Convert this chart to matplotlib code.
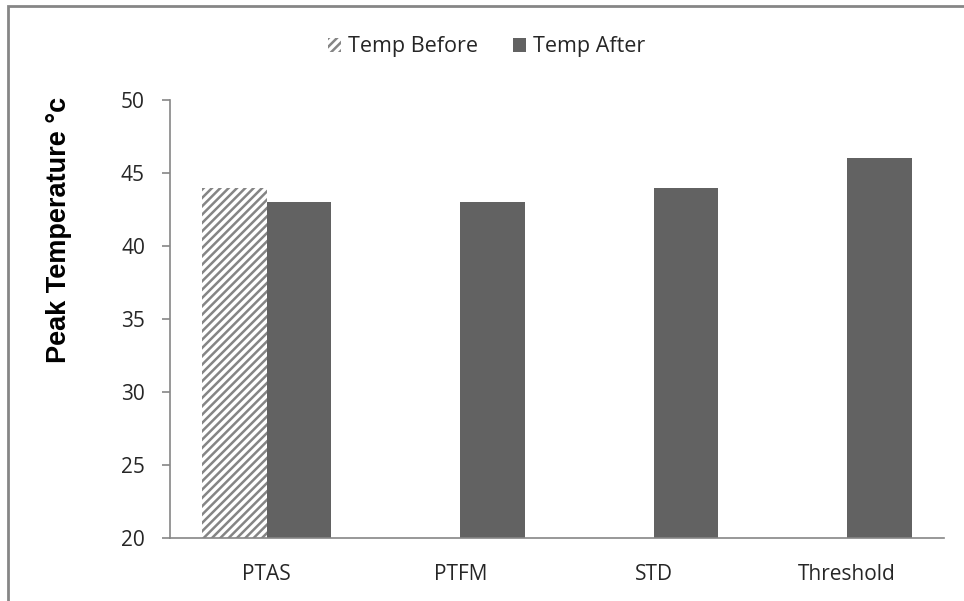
import matplotlib.pyplot as plt
import matplotlib.patches as mpatches
import numpy as np

plt.rcParams['font.family'] = ['Open Sans', 'DejaVu Sans']
plt.rcParams['hatch.linewidth'] = 1.8
plt.rcParams['hatch.color'] = '#858585'

# datos
categorias = ['PTAS', 'PTFM', 'STD', 'Threshold']
temp_antes = [44, np.nan, np.nan, np.nan]
temp_despues = [43, 43, 44, 46]
ticks_y = [20, 25, 30, 35, 40, 45, 50]

fig = plt.figure(figsize=(9.64, 6.01), dpi=100)
ax = fig.add_axes([0.1763, 0.1048, 0.8029, 0.7288])

x = np.arange(len(categorias))
ancho = 1 / 3

# barras
ax.bar(x - ancho / 2, temp_antes, ancho, color='white', edgecolor='#858585',
       linewidth=0, hatch='////', label='Temp Before')
ax.bar(x + ancho / 2, temp_despues, ancho, color='#626262', linewidth=0,
       label='Temp After')

ax.set_xlim(-0.5, 3.5)
ax.set_ylim(20, 50)
ax.set_yticks(ticks_y)
ax.set_xticks(x)
ax.set_xticklabels(categorias)

for s in ['top', 'right']:
    ax.spines[s].set_visible(False)
for s in ['left', 'bottom']:
    ax.spines[s].set_color('#868686')
    ax.spines[s].set_linewidth(1.2)

ax.tick_params(axis='y', length=6, width=1.2, color='#868686', pad=12,
               labelsize=15, labelcolor='#262626')
ax.tick_params(axis='x', length=0, pad=19, labelsize=15, labelcolor='#262626')

ax.set_ylabel('Peak Temperature °c', fontsize=19.5, fontweight='bold',
              family='Liberation Sans', color='black')
ax.yaxis.set_label_coords(-0.127, 0.704)

# leyenda arriba
fig.legend(loc='center', bbox_to_anchor=(0.505, 0.922), ncol=2, frameon=False,
           fontsize=15.5, handlelength=0.6, handleheight=0.6, handletextpad=0.35,
           columnspacing=1.6, labelcolor='#262626')

# borde del grafico
borde = mpatches.Rectangle((8 / 964, -0.05), 1.2, 1.05 - 6 / 601,
                           transform=fig.transFigure, fill=False,
                           edgecolor='#868686', linewidth=2)
fig.patches.append(borde)

fig.savefig('out.png', dpi=100)
